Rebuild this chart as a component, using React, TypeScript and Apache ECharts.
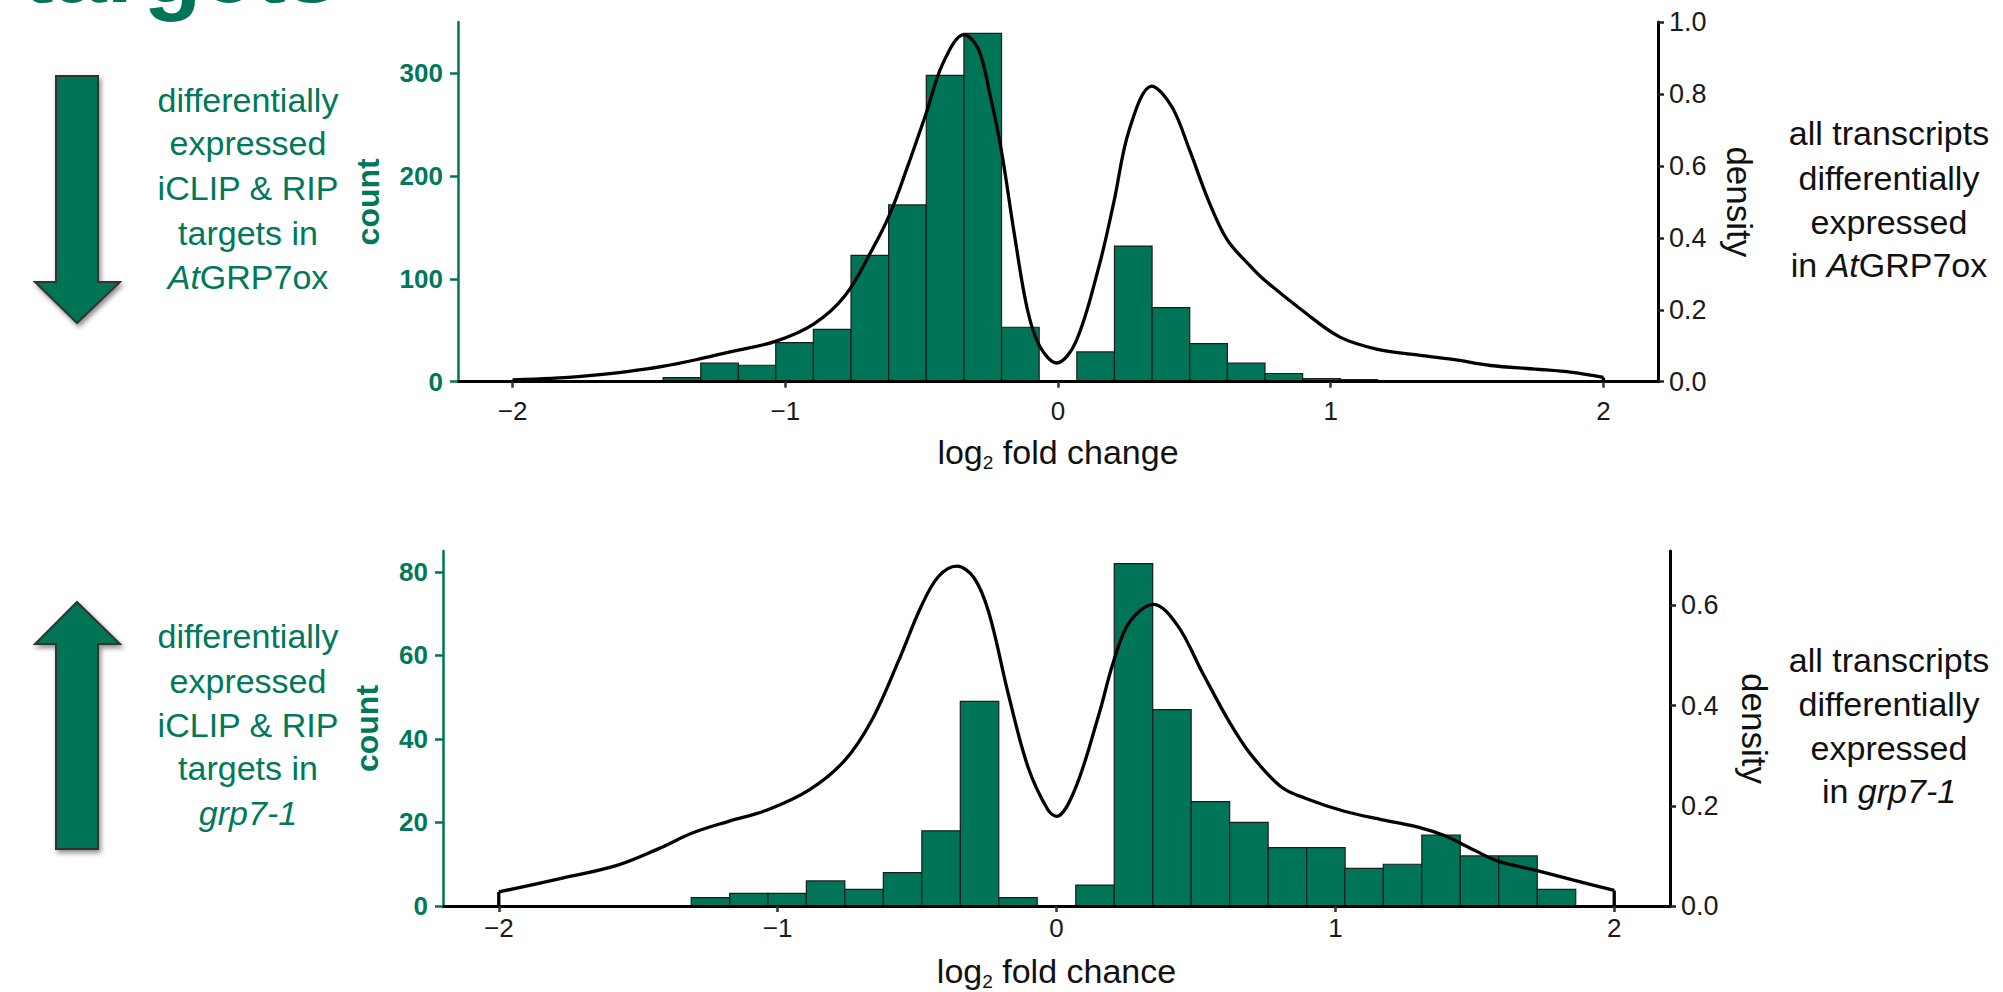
import React, { useEffect, useRef } from "react";
import * as echarts from "echarts";

// ---------- data ----------
const binWidth = 0.1379;
const binCenters = [
  -1.931, -1.793, -1.655, -1.517, -1.379, -1.241, -1.103, -0.966, -0.828, -0.69,
  -0.552, -0.414, -0.276, -0.138, 0, 0.138, 0.276, 0.414, 0.552, 0.69, 0.828,
  0.966, 1.103, 1.241, 1.379, 1.517, 1.655, 1.793, 1.931,
];
const topCounts = [
  1, 1, 1, 0, 4, 18, 16, 38, 51, 123, 172, 298, 339, 53, 0, 29, 132, 72, 37, 18,
  8, 3, 2, 1, 1, 1, 0, 0, 0,
];
const bottomCounts = [
  0, 0, 0, 0, 0, 2, 3, 3, 6, 4, 8, 18, 49, 2, 0, 5, 82, 47, 25, 20, 14, 14, 9, 10,
  17, 12, 12, 4, 0,
];

const topDensityX = [
  -2.0, -1.86, -1.72, -1.58, -1.445, -1.31, -1.19, -1.036, -0.896, -0.782, -0.683,
  -0.617, -0.553, -0.484, -0.422, -0.345, -0.292, -0.25, -0.207, -0.16, -0.112, -0.068,
  -0.005, 0.065, 0.15, 0.205, 0.261, 0.344, 0.417, 0.482, 0.551, 0.62, 0.707,
  0.758, 0.896, 1.034, 1.172, 1.31, 1.448, 1.586, 1.75, 1.885, 2.0,
];
const topDensityY = [
  0.005, 0.009, 0.017, 0.028, 0.043, 0.064, 0.085, 0.112, 0.16, 0.238, 0.365, 0.465,
  0.595, 0.745, 0.885, 0.965, 0.925, 0.8, 0.64, 0.41, 0.2, 0.1, 0.052, 0.11, 0.32, 0.5,
  0.7, 0.822, 0.765, 0.645, 0.505, 0.395, 0.32, 0.282, 0.198, 0.124, 0.09, 0.075,
  0.062, 0.045, 0.035, 0.026, 0.012,
];
const bottomDensityX = [
  -2.0, -1.784, -1.576, -1.432, -1.304, -1.176, -1.035, -0.888, -0.76, -0.664,
  -0.568, -0.485, -0.424, -0.357, -0.296, -0.243, -0.172, -0.102, -0.031, 0.0, 0.065,
  0.152, 0.204, 0.261, 0.348, 0.435, 0.522, 0.618, 0.696, 0.805, 0.892, 1.032, 1.169,
  1.306, 1.393, 1.503, 1.581, 1.72, 1.858, 2.0,
];
const bottomDensityY = [
  0.028, 0.054, 0.081, 0.113, 0.146, 0.169, 0.192, 0.231, 0.29, 0.369, 0.487, 0.598,
  0.657, 0.678, 0.655, 0.586, 0.421, 0.277, 0.192, 0.179, 0.231, 0.382, 0.487, 0.566,
  0.602, 0.559, 0.467, 0.369, 0.303, 0.238, 0.215, 0.189, 0.172, 0.156, 0.14, 0.11,
  0.09, 0.071, 0.051, 0.031,
];

const xTicks = [-2, -1, 0, 1, 2];
const topCountTicks = [0, 100, 200, 300];
const topDensityTicks = [0, 0.2, 0.4, 0.6, 0.8, 1.0];
const bottomCountTicks = [0, 20, 40, 60, 80];
const bottomDensityTicks = [0, 0.2, 0.4, 0.6];

const titleText = "targets";
const topLeftLines = ["differentially", "expressed", "iCLIP & RIP", "targets in", "{i|At}GRP7ox"];
const bottomLeftLines = ["differentially", "expressed", "iCLIP & RIP", "targets in", "{i|grp7-1}"];
const topRightLines = ["all transcripts", "differentially", "expressed", "in {i|At}GRP7ox"];
const bottomRightLines = ["all transcripts", "differentially", "expressed", "in {i|grp7-1}"];
const xNameStart = "log";
const topXNameRest = " fold change";
const bottomXNameRest = " fold chance";

// ---------- styles ----------
const GREEN = "#007456";
const TEXT_GREEN = "#00785A";
const FONT = '"Liberation Sans", Arial, Helvetica, sans-serif';

const fmtX = (v: number) => (v < 0 ? "\u2212" + Math.abs(v) : String(v));

function histSeries(xi: number, yi: number, counts: number[]) {
  return {
    type: "custom",
    xAxisIndex: xi,
    yAxisIndex: yi,
    z: 2,
    data: binCenters.map((c, i) => [c, counts[i]]).filter((d) => d[1] > 0),
    renderItem: (_params: any, api: any) => {
      const x = api.value(0) as number;
      const c = api.value(1) as number;
      const p0 = api.coord([x - binWidth / 2, c]);
      const p1 = api.coord([x + binWidth / 2, 0]);
      return {
        type: "rect",
        shape: { x: p0[0], y: p0[1], width: p1[0] - p0[0], height: p1[1] - p0[1] },
        style: { fill: GREEN, stroke: "#1c1c1c", lineWidth: 1.2 },
      };
    },
  };
}

function densitySeries(xi: number, yi: number, xs: number[], ys: number[]) {
  const line = { color: "#000", width: 3.3 };
  const n = xs.length - 1;
  return [
    {
      type: "line",
      xAxisIndex: xi,
      yAxisIndex: yi,
      z: 4,
      data: xs.map((x, i) => [x, ys[i]]),
      showSymbol: false,
      smooth: 0.35,
      lineStyle: line,
    },
    {
      type: "line",
      xAxisIndex: xi,
      yAxisIndex: yi,
      z: 4,
      data: [
        [xs[0], 0],
        [xs[0], ys[0]],
      ],
      showSymbol: false,
      lineStyle: line,
    },
    {
      type: "line",
      xAxisIndex: xi,
      yAxisIndex: yi,
      z: 4,
      data: [
        [xs[n], ys[n]],
        [xs[n], 0],
      ],
      showSymbol: false,
      lineStyle: line,
    },
  ];
}

function xAxis(gridIndex: number, rest: string, nameGap: number, labelMargin: number) {
  return {
    type: "value",
    gridIndex,
    min: -2.2,
    max: 2.2,
    z: 6,
    splitLine: { show: false },
    axisLine: { show: true, onZero: false, lineStyle: { color: "#000", width: 3 } },
    axisTick: { show: true, length: 6, customValues: xTicks, lineStyle: { color: "#333", width: 2.5 } },
    axisLabel: {
      customValues: xTicks,
      formatter: fmtX,
      color: "#1a1a1a",
      fontSize: 26,
      fontFamily: FONT,
      margin: labelMargin,
    },
    name: "{a|" + xNameStart + "}{s|2}{a|" + rest + "}",
    nameLocation: "middle",
    nameGap,
    nameTextStyle: {
      rich: {
        a: { fontSize: 34, fontFamily: FONT, color: "#111", lineHeight: 40 },
        s: { fontSize: 19, fontFamily: FONT, color: "#111", lineHeight: 20, verticalAlign: "bottom" },
      },
    },
  };
}

function countAxis(gridIndex: number, max: number, ticks: number[], nameGap: number) {
  return {
    type: "value",
    gridIndex,
    position: "left",
    min: 0,
    max,
    z: 6,
    splitLine: { show: false },
    axisLine: { show: true, onZero: false, lineStyle: { color: GREEN, width: 2.5 } },
    axisTick: { show: true, length: 8, customValues: ticks, lineStyle: { color: GREEN, width: 2.5 } },
    axisLabel: {
      customValues: ticks,
      color: TEXT_GREEN,
      fontWeight: "bold",
      fontSize: 26,
      fontFamily: FONT,
      margin: 15,
    },
    name: "count",
    nameLocation: "middle",
    nameGap,
    nameTextStyle: { color: TEXT_GREEN, fontWeight: "bold", fontSize: 32, fontFamily: FONT },
  };
}

function densityAxis(gridIndex: number, max: number, ticks: number[], nameGap: number) {
  return {
    type: "value",
    gridIndex,
    position: "right",
    min: 0,
    max,
    z: 6,
    splitLine: { show: false },
    axisLine: { show: true, onZero: false, lineStyle: { color: "#000", width: 3 } },
    axisTick: { show: true, length: 6, customValues: ticks, lineStyle: { color: "#222", width: 2.5 } },
    axisLabel: {
      customValues: ticks,
      formatter: (v: number) => v.toFixed(1),
      color: "#1a1a1a",
      fontSize: 27,
      fontFamily: FONT,
      margin: 11,
    },
    name: "density",
    nameLocation: "middle",
    nameRotate: -90,
    nameGap,
    nameTextStyle: { color: "#111", fontSize: 35, fontFamily: FONT },
  };
}

function textLines(lines: string[], cx: number, ys: number[], color: string) {
  return lines.map((t, i) => ({
    type: "text",
    x: cx,
    y: ys[i],
    style: {
      text: t,
      fill: color,
      font: "34px " + FONT,
      align: "center",
      verticalAlign: "middle",
      rich: {
        i: { fontStyle: "italic", fontSize: 34, fontFamily: FONT, fill: color },
      },
    },
  }));
}

const arrowStyle = {
  fill: GREEN,
  stroke: "#333",
  lineWidth: 2,
  shadowBlur: 5,
  shadowColor: "rgba(0,0,0,0.45)",
  shadowOffsetX: 2,
  shadowOffsetY: 3,
};

export default function App() {
  const ref = useRef<HTMLDivElement>(null);
  useEffect(() => {
    if (!ref.current) return;
    const chart = echarts.init(ref.current, undefined, { renderer: "svg" });
    chart.setOption({
      animation: false,
      backgroundColor: "#fff",
      grid: [
        { left: 458, top: 22, width: 1200, height: 359.7 },
        { left: 443, top: 551, width: 1227, height: 360.3 },
      ],
      xAxis: [xAxis(0, topXNameRest, 50, 16), xAxis(1, bottomXNameRest, 45, 9)],
      yAxis: [
        countAxis(0, 350, topCountTicks, 74),
        densityAxis(0, 1.0, topDensityTicks, 64),
        countAxis(1, 85, bottomCountTicks, 60),
        densityAxis(1, 85 / 120, bottomDensityTicks, 67),
      ],
      series: [
        histSeries(0, 0, topCounts),
        ...densitySeries(0, 1, topDensityX, topDensityY),
        histSeries(1, 2, bottomCounts),
        ...densitySeries(1, 3, bottomDensityX, bottomDensityY),
      ],
      graphic: [
        {
          type: "text",
          x: 22,
          y: -31,
          style: {
            text: titleText,
            fill: GREEN,
            font: "bold 95px " + FONT,
            verticalAlign: "middle",
          },
        },
        {
          type: "polygon",
          shape: {
            points: [
              [56, 76], [98, 76], [98, 282], [120, 282], [77, 323], [35, 282], [56, 282],
            ],
          },
          style: arrowStyle,
        },
        {
          type: "polygon",
          shape: {
            points: [
              [77, 602], [120, 644], [98, 644], [98, 849], [56, 849], [56, 644], [35, 644],
            ],
          },
          style: arrowStyle,
        },
        ...textLines(topLeftLines, 248, [100, 143, 188, 233, 277], TEXT_GREEN),
        ...textLines(bottomLeftLines, 248, [636, 681, 725, 768, 813], TEXT_GREEN),
        ...textLines(topRightLines, 1889, [133, 178, 222, 265], "#111"),
        ...textLines(bottomRightLines, 1889, [660, 704, 748, 791], "#111"),
      ],
    });
    return () => chart.dispose();
  }, []);
  return (
    <div
      ref={ref}
      style={{ position: "absolute", left: 0, top: 0, width: 2003, height: 992, background: "#fff" }}
    />
  );
}
